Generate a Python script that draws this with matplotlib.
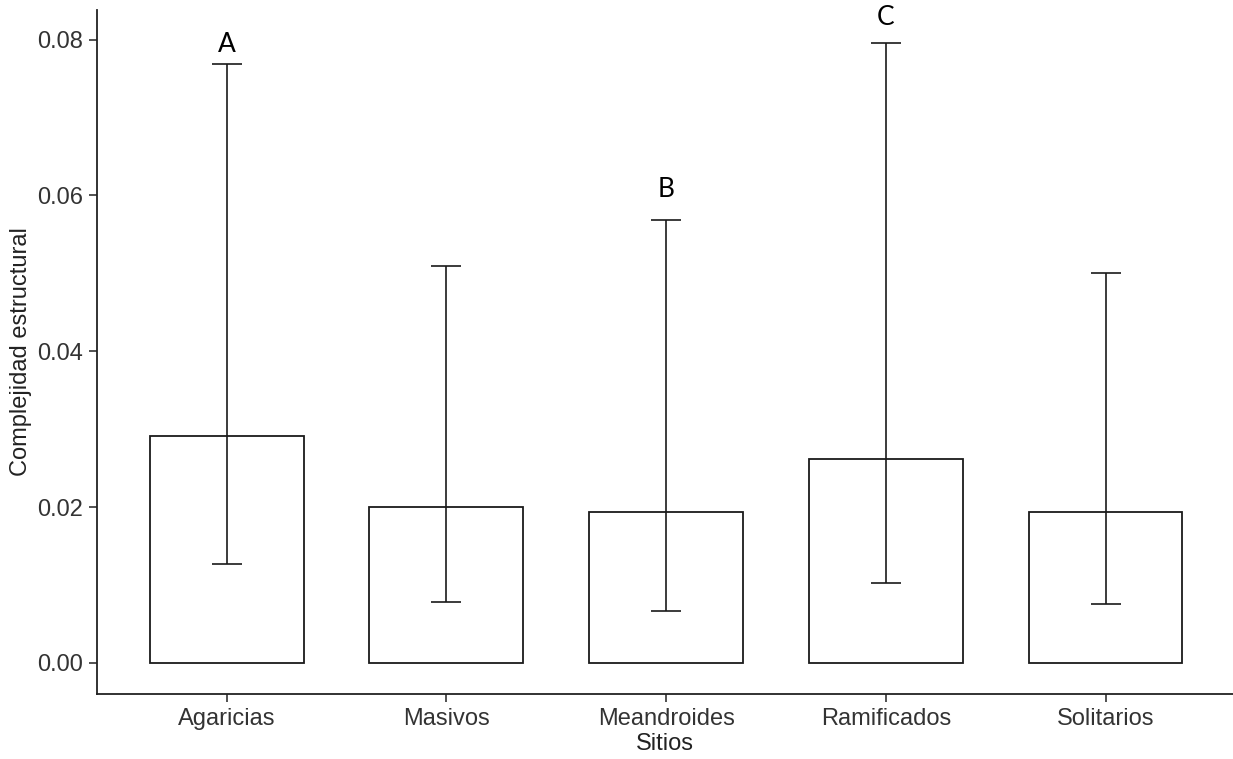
import matplotlib
matplotlib.use("Agg")
import matplotlib.pyplot as plt
import numpy as np

categories = ["Agaricias", "Masivos", "Meandroides", "Ramificados", "Solitarios"]
means = [0.0291, 0.0200, 0.0194, 0.0262, 0.0193]
lower = [0.0127, 0.0078, 0.0066, 0.0103, 0.0075]
upper = [0.0769, 0.0509, 0.0568, 0.0796, 0.0501]
letters = {"Agaricias": "A", "Meandroides": "B", "Ramificados": "C"}
letter_y = {"Agaricias": 0.0794, "Meandroides": 0.0607, "Ramificados": 0.0828}

plt.rcParams['font.family'] = ['Liberation Sans', 'DejaVu Sans']

fig = plt.figure(figsize=(12.33, 7.59), dpi=100)
ax = fig.add_axes([97/1233, 1 - 694/759, 1 - 97/1233, (694 - 10)/759])

x = np.arange(len(categories))
ax.bar(x, means, width=0.7, facecolor='white', edgecolor='#1a1a1a', linewidth=1.3, zorder=2)
m = np.array(means)
yerr = np.vstack([m - np.array(lower), np.array(upper) - m])
ax.errorbar(x, means, yerr=yerr, fmt='none', ecolor='#1a1a1a', elinewidth=1.2,
            capsize=11, capthick=1.2, zorder=3)

for i, c in enumerate(categories):
    if c in letters:
        ax.text(i, letter_y[c], letters[c], ha='center', va='center',
                fontsize=19, family=['Lato', 'DejaVu Sans'], color='black')

ax.set_xlim(-0.59, 4.58)
ax.set_ylim(-0.0040, 0.0838)
ax.set_yticks([0.0, 0.02, 0.04, 0.06, 0.08])
ax.set_yticklabels(["0.00", "0.02", "0.04", "0.06", "0.08"])
ax.set_xticks(x)
ax.set_xticklabels(categories)

for s in ['top', 'right']:
    ax.spines[s].set_visible(False)
for s in ['left', 'bottom']:
    ax.spines[s].set_linewidth(1.3)
    ax.spines[s].set_color('#222222')

ax.tick_params(axis='both', labelsize=17, labelcolor='#333333', color='#333333',
               length=6, width=1.2, pad=4)

ax.set_xlabel("Sitios", fontsize=17, color='#222222', labelpad=2)
ax.set_ylabel("Complejidad estructural", fontsize=17, color='#222222', labelpad=4)

fig.savefig("out.png", dpi=100)
